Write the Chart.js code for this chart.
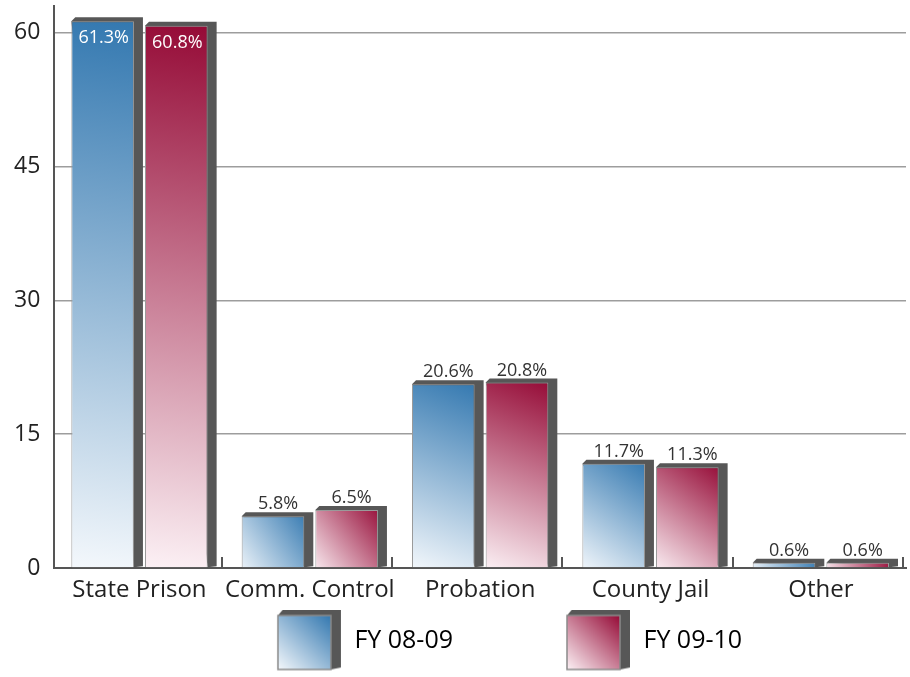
<!DOCTYPE html>
<html>
<head>
<meta charset="utf-8">
<script src="https://cdn.jsdelivr.net/npm/chart.js@4/dist/chart.umd.min.js"></script>
<style>
  html, body { margin: 0; padding: 0; background: #fff; }
  #wrap { width: 910px; height: 677px; }
</style>
</head>
<body>
<div id="wrap"><canvas id="chart"></canvas></div>
<script>
const categories = ['State Prison', 'Comm. Control', 'Probation', 'County Jail', 'Other']
const fy0809 = [61.3, 5.8, 20.6, 11.7, 0.6]
const fy0910 = [60.8, 6.5, 20.8, 11.3, 0.6]
const seriesNames = ['FY 08-09', 'FY 09-10']
const yTicks = [0, 15, 30, 45, 60]

const FONT = "'Open Sans', 'Noto Sans', sans-serif"
const palette = [
    { top: '#3378b0', bottom: '#f4f8fc' },
    { top: '#950a36', bottom: '#fcf1f5' },
]
const SHADE = '#575757'
const DX = 9, DY = 4

// diagonal gradient from bottom-left (pale) to top-right (strong)
function barFill(ctx) {
    const chart = ctx.chart
    const x = chart.scales.x, y = chart.scales.y
    const p = palette[ctx.datasetIndex]
    if (!x || !y || ctx.type !== 'data') return p.top
    const w = x.width / categories.length * 0.865 / 2
    const cx = x.getPixelForValue(ctx.dataIndex)
    const left = ctx.datasetIndex === 0 ? cx - w : cx
    const top = y.getPixelForValue(ctx.raw)
    const base = y.getPixelForValue(0)
    const g = chart.ctx.createLinearGradient(left, base, left + w, top)
    g.addColorStop(0, p.bottom)
    g.addColorStop(1, p.top)
    return g
}

// legend swatch: transparent room on the left, 3d box at the right end
function legendSwatch(p) {
    const c = document.createElement('canvas')
    c.width = 158
    c.height = 62
    const g = c.getContext('2d')
    const w = 53, h = 54, l = c.width - 64, t = 6
    g.fillStyle = SHADE
    g.beginPath()
    g.moveTo(l, t)
    g.lineTo(l + 5, t - 6)
    g.lineTo(l + w + 10, t - 6)
    g.lineTo(l + w + 10, t + h - 2)
    g.lineTo(l + w, t + h)
    g.closePath()
    g.fill()
    const gr = g.createLinearGradient(l, t + h, l + w, t)
    gr.addColorStop(0, p.bottom)
    gr.addColorStop(1, p.top)
    g.fillStyle = gr
    g.fillRect(l, t, w, h)
    g.strokeStyle = '#8a8a8a'
    g.lineWidth = 1.5
    g.strokeRect(l, t, w, h)
    return c
}

const shadowPlugin = {
    id: 'shadow3d',
    afterLayout(chart) {
        // nudge legend right and let the tall swatches show fully
        const lg = chart.legend
        lg.left += 10
        lg.right += 10
        lg.bottom = chart.height
    },
    beforeDatasetsDraw(chart) {
        const ctx = chart.ctx
        ctx.save()
        ctx.fillStyle = SHADE
        chart.data.datasets.forEach((ds, di) => {
            chart.getDatasetMeta(di).data.forEach(el => {
                const l = el.x - el.width / 2, r = el.x + el.width / 2
                const t = el.y, b = el.base
                ctx.beginPath()
                ctx.moveTo(l, t)
                ctx.lineTo(l + 4, t - DY)
                ctx.lineTo(r + DX, t - DY)
                ctx.lineTo(r + DX, b - 1)
                ctx.lineTo(r, b)
                ctx.closePath()
                ctx.fill()
            })
        })
        ctx.restore()
    },
    afterDatasetsDraw(chart) {
        const ctx = chart.ctx
        const x = chart.scales.x, y = chart.scales.y
        ctx.save()
        ctx.font = '18px ' + FONT
        ctx.textAlign = 'center'
        chart.data.datasets.forEach((ds, di) => {
            chart.getDatasetMeta(di).data.forEach((el, i) => {
                const v = ds.data[i]
                const txt = v.toFixed(1) + '%'
                if (v > 50) {
                    ctx.fillStyle = '#ffffff'
                    ctx.textBaseline = 'middle'
                    ctx.fillText(txt, el.x + 1, el.y + 17)
                } else {
                    ctx.fillStyle = '#333333'
                    ctx.textBaseline = 'bottom'
                    ctx.fillText(txt, el.x + 5, el.y - 3)
                }
            })
        })
        // short ticks between categories
        ctx.strokeStyle = '#555'
        ctx.lineWidth = 2
        const step = x.width / categories.length
        for (let i = 1; i <= categories.length; i++) {
            const px = Math.round(x.left + i * step) - 3
            ctx.beginPath()
            ctx.moveTo(px, y.bottom)
            ctx.lineTo(px, y.bottom - 11)
            ctx.stroke()
        }
        ctx.restore()
    }
}

new Chart(document.getElementById('chart'), {
    type: 'bar',
    data: {
        labels: categories,
        datasets: [
            { label: seriesNames[0], data: fy0809, backgroundColor: barFill, borderColor: '#9a9a9a', borderWidth: 1 },
            { label: seriesNames[1], data: fy0910, backgroundColor: barFill, borderColor: '#9a9a9a', borderWidth: 1 },
        ]
    },
    options: {
        responsive: true,
        maintainAspectRatio: false,
        animation: false,
        datasets: { bar: { categoryPercentage: 0.865, barPercentage: 0.85 } },
        layout: { padding: { top: 6, right: 4, left: 0, bottom: 14 } },
        scales: {
            x: {
                grid: { display: false },
                border: { color: '#555', width: 2 },
                ticks: {
                    color: '#222', font: { family: FONT, size: 24 }, padding: 0,
                    maxRotation: 0, minRotation: 0, autoSkip: false,
                },
                afterFit: s => { s.height = 40 },
            },
            y: {
                min: 0,
                max: 63,
                afterBuildTicks: s => { s.ticks = yTicks.map(v => ({ value: v })) },
                afterFit: s => { s.paddingTop = 0 },
                grid: { color: '#9d9d9d', lineWidth: 1.5, tickLength: 0 },
                border: { color: '#555', width: 2 },
                ticks: { color: '#222', font: { family: FONT, size: 23 }, padding: 14 },
            }
        },
        plugins: {
            tooltip: { enabled: false },
            legend: {
                position: 'bottom',
                labels: {
                    usePointStyle: true,
                    pointStyleWidth: 158,
                    padding: 20,
                    color: '#222',
                    font: { family: FONT, size: 25 },
                    generateLabels: chart => seriesNames.map((n, i) => ({
                        text: n,
                        pointStyle: legendSwatch(palette[i]),
                        fillStyle: palette[i].top,
                        strokeStyle: palette[i].top,
                        lineWidth: 0,
                        datasetIndex: i,
                        hidden: false,
                    })),
                }
            }
        }
    },
    plugins: [shadowPlugin]
})
</script>
</body>
</html>
